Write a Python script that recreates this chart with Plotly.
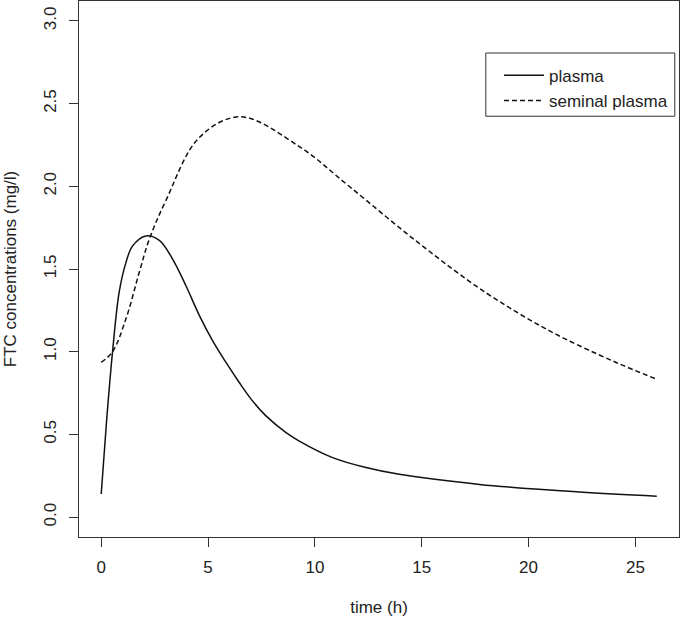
import plotly.graph_objects as go

# Time (h) and concentrations (mg/l)
plasma_time = [0, 0.25, 0.53, 0.84, 1.16, 1.47, 2.09, 2.72, 3.34, 3.96, 4.59, 5.21,
               5.84, 6.46, 7.08, 7.71, 8.65, 9.27, 10.83, 12.39, 13.95, 17.7, 22.4, 26]
plasma_conc = [0.14, 0.58, 1.00, 1.36, 1.54, 1.64, 1.70, 1.673, 1.56, 1.40, 1.22, 1.067,
               0.935, 0.814, 0.703, 0.612, 0.511, 0.46, 0.36, 0.30, 0.259, 0.198, 0.152, 0.127]

seminal_time = [0, 0.53, 1.16, 1.78, 2.25, 3.03, 4.59, 6.5, 9.27, 11.6,
                14.73, 17.85, 20.97, 24.1, 26]
seminal_conc = [0.935, 1.0, 1.2, 1.48, 1.68, 1.915, 2.295, 2.42, 2.24, 2.0,
                1.67, 1.37, 1.127, 0.935, 0.834]

x_ticks = [0, 5, 10, 15, 20, 25]
y_ticks = [0.0, 0.5, 1.0, 1.5, 2.0, 2.5, 3.0]
y_tick_labels = ["0.0", "0.5", "1.0", "1.5", "2.0", "2.5", "3.0"]

FONT = "Liberation Sans, Arial, sans-serif"
INK = "#222222"
FS = 17

fig = go.Figure()
fig.add_trace(go.Scatter(x=plasma_time, y=plasma_conc, mode="lines", name="plasma",
                         line=dict(color="#111111", width=1.5, shape="spline", smoothing=1.0)))
fig.add_trace(go.Scatter(x=seminal_time, y=seminal_conc, mode="lines", name="seminal plasma",
                         line=dict(color="#111111", width=1.5, dash="5px,3px",
                                   shape="spline", smoothing=1.0)))

axis_common = dict(showgrid=False, zeroline=False, showline=True, linecolor="#333333",
                   linewidth=1, mirror=True, ticks="outside", ticklen=9, tickwidth=1,
                   tickcolor="#333333", automargin=False,
                   tickfont=dict(family=FONT, size=FS, color=INK))

fig.update_layout(
    width=680, height=617,
    margin=dict(l=79, r=1, t=1, b=80),
    paper_bgcolor="white", plot_bgcolor="white",
    font=dict(family=FONT, size=FS, color=INK),
    xaxis=dict(range=[-1.04, 27.04], tickvals=x_ticks, ticklabelstandoff=6,
               title=dict(text="time (h)", font=dict(family=FONT, size=FS, color=INK), standoff=28),
               **axis_common),
    yaxis=dict(range=[-0.12, 3.12], tickvals=y_ticks, ticktext=y_tick_labels, tickangle=-90,
               ticklabelstandoff=6,
               title=dict(text="FTC concentrations (mg/l)", font=dict(family=FONT, size=FS, color=INK),
                          standoff=20),
               **axis_common),
    legend=dict(x=0.70, y=0.894, xanchor="left", yanchor="top", bgcolor="rgba(0,0,0,0)",
                borderwidth=0, itemwidth=40, font=dict(family=FONT, size=FS, color=INK),
                tracegroupgap=0),
    shapes=[dict(type="rect", xref="paper", yref="paper", x0=0.678, x1=0.993, y0=0.785, y1=0.903,
                 line=dict(color="#333333", width=1), fillcolor="rgba(0,0,0,0)", layer="below")],
)

fig.write_html("out.html", config={"displayModeBar": False},
               post_script="document.body.style.margin='0';document.body.style.padding='0';")
